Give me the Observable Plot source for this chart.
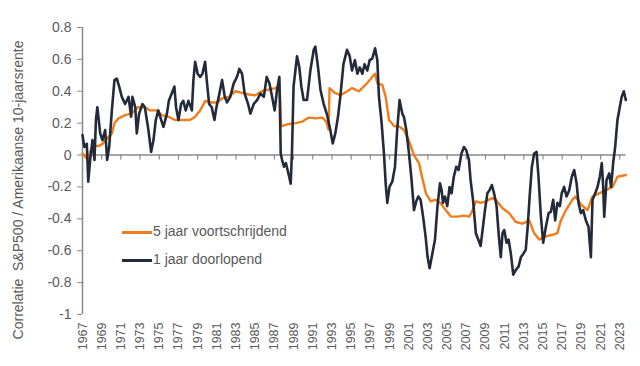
<!DOCTYPE html>
<html><head><meta charset="utf-8">
<script src="https://cdn.jsdelivr.net/npm/d3@7"></script>
<script src="https://cdn.jsdelivr.net/npm/@observablehq/plot@0.6"></script>
<style>
body{margin:0;background:#fff;}
#wrap{position:relative;width:640px;height:366px;font-family:"Liberation Sans",Arial,sans-serif;}
.lg{position:absolute;left:122px;height:18px;line-height:18px;color:#595959;font-size:14px;white-space:nowrap;}
.sw{display:inline-block;width:30px;height:2.5px;vertical-align:middle;margin-right:1px;}
</style></head><body><div id="wrap"></div>
<script>
const seriesNames = ["5 jaar voortschrijdend", "1 jaar doorlopend"];
const seriesColors = ["#F07D1A", "#232a3a"];
const yLabel = "Correlatie\u00a0 S&P500 / Amerikaanse 10-jaarsrente";
const yearTicks = [1967,1969,1971,1973,1975,1977,1979,1981,1983,1985,1987,1989,1991,1993,1995,1997,1999,2001,2003,2005,2007,2009,2011,2013,2015,2017,2019,2021,2023];
const yTicks = [0.8,0.6,0.4,0.2,0,-0.2,-0.4,-0.6,-0.8,-1];
const yTickLabels = ["0.8","0.6","0.4","0.2","0","-0.2","-0.4","-0.6","-0.8","-1"];

const fiveYearDates = [1967.0,1967.28,1967.56,1967.8,1968.15,1968.67,1969.08,1969.5,1970.06,1970.33,1970.75,1971.44,1972.1,1972.8,1973.5,1974.05,1974.74,1975.26,1975.96,1976.65,1977.35,1978.2,1978.74,1979.26,1979.8,1980.3,1981.0,1981.55,1982.24,1982.94,1983.63,1984.33,1985.0,1985.7,1986.4,1987.1,1987.55,1987.7,1988.5,1989.2,1989.9,1990.6,1991.3,1992.0,1992.4,1992.65,1992.75,1993.3,1993.9,1994.6,1995.1,1995.8,1996.5,1997.2,1997.5,1997.73,1998.25,1998.6,1998.95,1999.5,2000.0,2000.5,2001.0,2001.55,2002.07,2002.4,2002.8,2003.3,2003.8,2004.3,2004.85,2005.4,2006.06,2006.76,2007.3,2007.6,2008.0,2008.5,2009.0,2009.7,2010.09,2010.78,2011.48,2012.17,2012.87,2013.56,2014.08,2014.6,2015.3,2016.0,2016.5,2016.86,2017.4,2018.07,2018.4,2018.95,2019.64,2020.16,2020.85,2021.55,2022.24,2022.76,2023.63];
const fiveYearValues = [0.01,-0.01,-0.03,0.02,0.06,0.056,0.07,0.10,0.135,0.20,0.23,0.25,0.26,0.30,0.30,0.28,0.28,0.25,0.24,0.22,0.22,0.22,0.24,0.28,0.34,0.33,0.33,0.355,0.365,0.40,0.39,0.38,0.375,0.40,0.41,0.42,0.43,0.18,0.195,0.20,0.21,0.235,0.23,0.235,0.21,0.16,0.42,0.39,0.375,0.40,0.42,0.40,0.44,0.49,0.51,0.45,0.44,0.365,0.22,0.18,0.18,0.157,0.094,0.0,-0.05,-0.14,-0.24,-0.29,-0.28,-0.30,-0.345,-0.386,-0.386,-0.38,-0.386,-0.355,-0.29,-0.30,-0.29,-0.27,-0.28,-0.334,-0.365,-0.42,-0.43,-0.41,-0.49,-0.53,-0.51,-0.50,-0.49,-0.41,-0.345,-0.28,-0.26,-0.31,-0.345,-0.26,-0.24,-0.22,-0.20,-0.136,-0.125];

const oneYearDates = [1967.0,1967.2,1967.45,1967.6,1967.8,1968.04,1968.25,1968.4,1968.55,1968.84,1969.08,1969.36,1969.57,1969.78,1970.06,1970.33,1970.58,1970.82,1971.1,1971.44,1971.8,1972.07,1972.2,1972.5,1972.66,1972.9,1973.25,1973.5,1973.87,1974.15,1974.4,1974.64,1974.9,1975.2,1975.44,1975.8,1976.0,1976.3,1976.58,1976.75,1977.0,1977.28,1977.5,1977.76,1978.04,1978.4,1978.56,1978.74,1979.0,1979.26,1979.5,1979.78,1979.95,1980.2,1980.47,1980.75,1980.96,1981.2,1981.55,1981.83,1982.07,1982.4,1982.76,1983.1,1983.35,1983.63,1983.9,1984.26,1984.5,1984.85,1985.2,1985.54,1985.9,1986.2,1986.48,1986.76,1987.03,1987.28,1987.52,1987.66,1987.8,1988.0,1988.2,1988.5,1988.7,1988.84,1989.0,1989.36,1989.6,1989.81,1990.05,1990.4,1990.75,1991.1,1991.27,1991.55,1991.8,1992.14,1992.5,1992.83,1993.08,1993.35,1993.63,1993.87,1994.2,1994.57,1994.85,1995.09,1995.4,1995.65,1995.9,1996.17,1996.4,1996.69,1996.93,1997.2,1997.5,1997.73,1997.9,1998.18,1998.42,1998.6,1998.77,1999.0,1999.29,1999.57,1999.8,2000.05,2000.33,2000.5,2000.75,2001.03,2001.3,2001.55,2001.79,2002.0,2002.24,2002.5,2002.76,2002.97,2003.18,2003.46,2003.74,2004.0,2004.26,2004.43,2004.57,2004.78,2005.02,2005.26,2005.47,2005.7,2005.96,2006.2,2006.5,2006.76,2007.0,2007.28,2007.45,2007.7,2008.0,2008.25,2008.5,2008.74,2008.95,2009.2,2009.43,2009.67,2009.9,2010.16,2010.37,2010.6,2010.78,2010.96,2011.2,2011.41,2011.65,2011.9,2012.17,2012.45,2012.7,2012.94,2013.2,2013.4,2013.63,2013.84,2014.08,2014.33,2014.53,2014.78,2015.02,2015.3,2015.58,2015.82,2016.06,2016.27,2016.5,2016.76,2016.95,2017.2,2017.45,2017.73,2018.0,2018.25,2018.5,2018.7,2018.95,2019.19,2019.47,2019.74,2019.99,2020.16,2020.44,2020.68,2020.92,2021.13,2021.27,2021.38,2021.62,2021.9,2022.1,2022.31,2022.52,2022.76,2023.0,2023.2,2023.42,2023.63];
const oneYearValues = [0.125,0.05,0.07,-0.167,-0.03,0.094,-0.03,0.22,0.30,0.136,0.094,0.157,-0.03,0.05,0.28,0.47,0.48,0.43,0.365,0.32,0.365,0.24,0.365,0.30,0.136,0.26,0.32,0.30,0.157,0.02,0.094,0.22,0.28,0.22,0.177,0.26,0.34,0.386,0.43,0.30,0.22,0.32,0.34,0.28,0.34,0.28,0.47,0.585,0.51,0.49,0.51,0.585,0.47,0.32,0.30,0.22,0.30,0.365,0.47,0.365,0.33,0.365,0.45,0.49,0.54,0.51,0.386,0.32,0.26,0.32,0.345,0.386,0.365,0.49,0.45,0.365,0.28,0.41,0.49,0.01,-0.03,-0.073,-0.05,-0.125,-0.18,0.03,0.43,0.62,0.55,0.43,0.345,0.345,0.53,0.66,0.68,0.55,0.41,0.32,0.25,0.157,0.073,0.136,0.24,0.365,0.57,0.66,0.62,0.53,0.595,0.51,0.55,0.51,0.57,0.53,0.595,0.605,0.67,0.595,0.365,0.20,0.01,-0.177,-0.30,-0.20,-0.167,-0.073,0.157,0.345,0.26,0.24,0.157,0.01,-0.157,-0.345,-0.29,-0.26,-0.28,-0.386,-0.51,-0.64,-0.71,-0.62,-0.53,-0.32,-0.177,-0.22,-0.30,-0.26,-0.32,-0.20,-0.24,-0.136,-0.073,-0.094,0.01,0.05,0.03,-0.03,-0.157,-0.28,-0.49,-0.53,-0.57,-0.45,-0.345,-0.24,-0.22,-0.188,-0.24,-0.32,-0.49,-0.64,-0.49,-0.47,-0.55,-0.53,-0.62,-0.75,-0.72,-0.70,-0.64,-0.62,-0.595,-0.45,-0.24,-0.073,0.01,0.02,-0.136,-0.386,-0.55,-0.45,-0.365,-0.355,-0.28,-0.41,-0.30,-0.32,-0.24,-0.20,-0.26,-0.22,-0.136,-0.094,-0.177,-0.30,-0.365,-0.345,-0.41,-0.45,-0.64,-0.28,-0.24,-0.20,-0.136,-0.05,-0.20,-0.386,-0.157,-0.115,-0.20,-0.05,0.05,0.22,0.30,0.365,0.40,0.345];

const five = fiveYearDates.map((d, i) => ({date: d, value: fiveYearValues[i]}));
const one = oneYearDates.map((d, i) => ({date: d, value: oneYearValues[i]}));
const axisGrey = "#8a8a8a";
const textGrey = "#595959";

const chart = Plot.plot({
  width: 640, height: 366,
  marginLeft: 82, marginRight: 14.5, marginTop: 27, marginBottom: 52,
  style: {fontFamily: '"Liberation Sans", Arial, sans-serif', fontSize: "14px", color: textGrey, background: "white"},
  x: {domain: [1967, 2023.65]},
  y: {domain: [-1, 0.8]},
  marks: [
    Plot.ruleY([0], {stroke: axisGrey, strokeWidth: 1.5}),
    Plot.ruleX(yearTicks, {x: d => d, y1: () => 0, y2: () => 0, insetBottom: -5, stroke: axisGrey, strokeWidth: 1.2}),
    Plot.ruleX([yearTicks[0]], {stroke: axisGrey, strokeWidth: 1.5}),
    Plot.axisY({ticks: yTicks, tickFormat: d => yTickLabels[yTicks.findIndex(t => Math.abs(t - d) < 1e-9)], tickSize: 5, tickPadding: 6, stroke: axisGrey, fill: textGrey, fontSize: 14, label: null}),
    Plot.axisX({ticks: yearTicks, tickFormat: d => String(d), tickSize: 0, tickRotate: -90, tickPadding: 8, fill: textGrey, fontSize: 12.5, label: null}),
    Plot.line(five, {x: "date", y: "value", stroke: seriesColors[0], strokeWidth: 2.4}),
    Plot.line(one, {x: "date", y: "value", stroke: seriesColors[1], strokeWidth: 2.6}),
    Plot.text([yLabel], {frameAnchor: "left", textAnchor: "middle", dx: -64, dy: 19, rotate: -90, fontSize: 14, fill: textGrey})
  ]
});
const wrap = document.getElementById("wrap");
wrap.appendChild(chart);
const legendTops = [222, 250];
seriesNames.forEach((name, i) => {
  const row = document.createElement("div");
  row.className = "lg";
  row.style.top = legendTops[i] + "px";
  row.innerHTML = `<span class="sw" style="background:${seriesColors[i]}"></span>${name}`;
  wrap.appendChild(row);
});
</script>
</body></html>
